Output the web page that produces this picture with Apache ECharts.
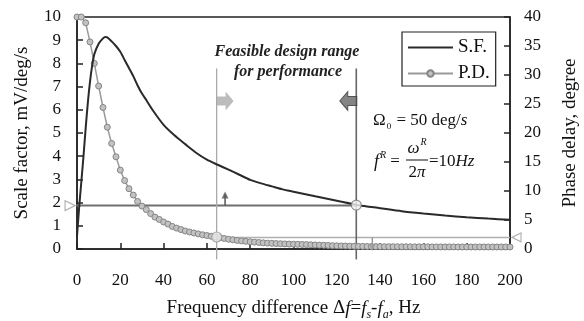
<!DOCTYPE html>
<html>
<head>
<meta charset="utf-8">
<script src="https://cdn.jsdelivr.net/npm/echarts@6/dist/echarts.min.js"></script>
<style>
html,body{margin:0;padding:0;background:#fff;}
#chart{width:584px;height:321px;}
</style>
</head>
<body>
<div id="chart"></div>
<script>
// ---- data ----
const xTicks = [0, 20, 40, 60, 80, 100, 120, 140, 160, 180, 200];
const sfTicks = [0, 1, 2, 3, 4, 5, 6, 7, 8, 9, 10];
const pdTicks = [0, 5, 10, 15, 20, 25, 30, 35, 40];

// Scale factor (S.F.), mV/deg/s
const sfX = [0,1,2,3,4,5,6,7,8,10,12,13,14,16,18,20,22,24,26,28,30,32,35,40,45,50,55,60,65,70,75,80,85,90,95,100,110,120,130,140,150,160,170,180,190,200];
const sfY = [0.55,1.8,2.9,4.0,5.2,6.3,7.2,7.9,8.4,8.85,9.08,9.14,9.12,8.95,8.75,8.5,8.15,7.8,7.45,7.05,6.7,6.42,5.98,5.35,4.9,4.52,4.15,3.85,3.63,3.42,3.2,2.98,2.83,2.7,2.57,2.47,2.27,2.08,1.89,1.76,1.63,1.53,1.44,1.37,1.31,1.26];

// Phase delay (P.D.), degree
const pdX = [0,2,4,6,8,10,12,14,16,18,20,22,24,26,28,30,32,34,36,38,40,42,44,46,48,50,52,54,56,58,60,62,64,66,68,70,72,74,76,78,80,82,84,86,88,90,92,94,96,98,100,102,104,106,108,110,112,114,116,118,120,122,124,126,128,130,132,134,136,138,140,142,144,146,148,150,152,154,156,158,160,162,164,166,168,170,172,174,176,178,180,182,184,186,188,190,192,194,196,198,200];
const pdY = [40,40,39,35.7,32.0,28.1,24.4,21.0,18.2,15.9,13.6,11.8,10.4,9.3,8.2,7.4,6.8,6.1,5.5,5.1,4.65,4.3,3.9,3.6,3.35,3.1,2.93,2.76,2.6,2.45,2.32,2.2,2.08,1.95,1.82,1.68,1.58,1.48,1.4,1.32,1.25,1.18,1.12,1.06,1.01,0.97,0.94,0.91,0.88,0.85,0.83,0.81,0.79,0.76,0.73,0.7,0.67,0.64,0.61,0.58,0.55,0.53,0.51,0.49,0.47,0.46,0.45,0.44,0.43,0.42,0.41,0.4,0.4,0.39,0.39,0.38,0.38,0.38,0.37,0.37,0.37,0.37,0.36,0.36,0.36,0.36,0.36,0.36,0.35,0.35,0.35,0.35,0.35,0.35,0.35,0.35,0.35,0.35,0.35,0.35,0.35];

// annotation values (axis units)
const sfLevel = 1.87;          // dark horizontal guide (S.F. axis)
const pdLevel = 2.0;           // light horizontal guide (P.D. axis)
const freqLow = 64.5;          // light vertical guide
const freqHigh = 129;          // dark vertical guide
const guideTop = 7.78, guideBottom = -0.45;
const bigArrowY = 6.38;
const bigArrowLowX = 68.4, bigArrowHighX = 125.3;
const upArrowX = 68.4, upArrowTip = 2.46;
const downArrowX = 136.4, downArrowFrom = 0.5, downArrowTip = -0.06;
const leftTriX = -3.2, rightTriX = 203;
const sfMarkY = 1.89, pdMarkY = 2.07;

// ---- chart ----
const FONT = 'Liberation Serif';
const chart = echarts.init(document.getElementById('chart'), null, {renderer: 'canvas'});

const pair = (xs, ys) => xs.map((x, i) => [x, ys[i]]);
const plain = {show: false};

const option = {
  animation: false,
  backgroundColor: '#fff',
  grid: {left: 77, right: 74, top: 17, bottom: 72, show: true, borderColor: '#222', borderWidth: 1.5, backgroundColor: 'transparent',
         containLabel: false, outerBoundsMode: 'none'},
  legend: {
    data: [
      {name: 'S.F.', icon: 'path://M0,0 L45,0 L45,2 L0,2 Z'},
      {name: 'P.D.'}
    ],
    orient: 'vertical', left: 402, top: 32,
    itemWidth: 45, itemHeight: 8, itemGap: 7,
    padding: [6, 6, 3, 5],
    borderColor: '#222', borderWidth: 1.2,
    textStyle: {fontFamily: FONT, fontSize: 19, color: '#111'}
  },
  xAxis: {
    type: 'value', min: xTicks[0], max: xTicks[xTicks.length - 1], interval: xTicks[1] - xTicks[0],
    name: 'Frequency difference Δ{i|f}={i|f}{sub|s}-{i|f}{sub|a}, Hz',
    nameLocation: 'middle', nameGap: 50,
    nameTextStyle: {fontFamily: FONT, fontSize: 19, color: '#111',
      rich: {i: {fontFamily: FONT, fontSize: 19, fontStyle: 'italic', color: '#111'},
             sub: {fontFamily: FONT, fontSize: 12, fontStyle: 'italic', color: '#111', verticalAlign: 'bottom', padding: [0, 0, -3, 0]}}},
    axisLine: {lineStyle: {color: '#222', width: 1.5}},
    axisTick: {inside: true, length: 6, lineStyle: {color: '#222', width: 1.5}},
    axisLabel: {fontFamily: FONT, fontSize: 17, color: '#111', margin: 23},
    splitLine: plain
  },
  yAxis: [{
    type: 'value', min: sfTicks[0], max: sfTicks[sfTicks.length - 1], interval: 1,
    name: 'Scale factor, mV/deg/s', nameLocation: 'middle', nameGap: 45,
    nameTextStyle: {fontFamily: FONT, fontSize: 19, color: '#111'},
    axisLine: {show: true, lineStyle: {color: '#222', width: 1.5}},
    axisTick: {show: true, inside: true, length: 6, lineStyle: {color: '#222', width: 1.5}},
    axisLabel: {fontFamily: FONT, fontSize: 17, color: '#111', margin: 16},
    splitLine: plain
  }, {
    type: 'value', position: 'right', min: pdTicks[0], max: pdTicks[pdTicks.length - 1], interval: 5,
    name: 'Phase delay, degree', nameLocation: 'middle', nameGap: 51, nameRotate: 90,
    nameTextStyle: {fontFamily: FONT, fontSize: 19, color: '#111'},
    axisLine: {show: true, lineStyle: {color: '#222', width: 1.5}},
    axisTick: {show: true, inside: true, length: 6, lineStyle: {color: '#222', width: 1.5}},
    axisLabel: {fontFamily: FONT, fontSize: 17, color: '#111', margin: 14},
    splitLine: plain
  }],
  series: [
    // guides
    {type: 'line', name: 'g1', data: [[-0.9, sfLevel], [freqHigh, sfLevel]], yAxisIndex: 0, clip: false, symbol: 'none', silent: true,
     lineStyle: {color: '#6e6e6e', width: 2}, z: 1},
    {type: 'line', name: 'g2', data: [[freqLow, pdLevel], [200, pdLevel]], yAxisIndex: 1, clip: false, symbol: 'none', silent: true,
     lineStyle: {color: '#b0b0b0', width: 1.5}, z: 1},
    {type: 'line', name: 'g3', data: [[freqLow, guideTop], [freqLow, guideBottom]], yAxisIndex: 0, clip: false, symbol: 'none', silent: true,
     lineStyle: {color: '#aaaaaa', width: 1.3}, z: 1},
    {type: 'line', name: 'g4', data: [[freqHigh, guideTop], [freqHigh, guideBottom]], yAxisIndex: 0, clip: false, symbol: 'none', silent: true,
     lineStyle: {color: '#666666', width: 1.6}, z: 1},
    {type: 'line', name: 'g5', data: [[upArrowX, sfLevel], [upArrowX, upArrowTip - 0.1]], yAxisIndex: 0, clip: false, symbol: 'none', silent: true,
     lineStyle: {color: '#555', width: 1.5}, z: 1},
    {type: 'line', name: 'g6', data: [[downArrowX, downArrowFrom], [downArrowX, downArrowTip + 0.1]], yAxisIndex: 0, clip: false, symbol: 'none', silent: true,
     lineStyle: {color: '#999', width: 1.5}, z: 1},
    // main curves
    {type: 'line', name: 'S.F.', data: pair(sfX, sfY), yAxisIndex: 0, symbol: 'none', smooth: 0.25,
     lineStyle: {color: '#2a2a2a', width: 2}, itemStyle: {color: '#2a2a2a'}, z: 3},
    {type: 'line', name: 'P.D.', data: pair(pdX, pdY), yAxisIndex: 1, symbol: 'circle', symbolSize: 6, showAllSymbol: true, clip: false,
     lineStyle: {color: '#9a9a9a', width: 1.5}, itemStyle: {color: '#c2c2c2', borderColor: '#858585', borderWidth: 1}, z: 2},
    // arrow heads
    {type: 'scatter', name: 'h1', data: [[upArrowX, upArrowTip - 0.13]], yAxisIndex: 0, clip: false, silent: true,
     symbol: 'triangle', symbolSize: [7, 7], itemStyle: {color: '#555'}, z: 4},
    {type: 'scatter', name: 'h2', data: [[downArrowX, downArrowTip + 0.13]], yAxisIndex: 0, clip: false, silent: true,
     symbol: 'triangle', symbolSize: [7, 7], symbolRotate: 180, itemStyle: {color: '#999'}, z: 4},
    // big block arrows
    {type: 'scatter', name: 'b1', data: [[bigArrowLowX, bigArrowY]], yAxisIndex: 0, silent: true,
     symbol: 'path://M0,5 L9,5 L9,0 L17,9.5 L9,19 L9,14 L0,14 Z', symbolSize: [17, 19], symbolKeepAspect: false,
     itemStyle: {color: '#ababab'}, z: 4},
    {type: 'scatter', name: 'b2', data: [[bigArrowHighX, bigArrowY]], yAxisIndex: 0, silent: true,
     symbol: 'path://M17,5 L8,5 L8,0 L0,9.5 L8,19 L8,14 L17,14 Z', symbolSize: [17, 19], symbolKeepAspect: false,
     itemStyle: {color: '#666', borderColor: '#3a3a3a', borderWidth: 1}, z: 4},
    // open triangles at axes
    {type: 'scatter', name: 't1', data: [[leftTriX, sfLevel]], yAxisIndex: 0, clip: false, silent: true,
     symbol: 'triangle', symbolSize: [10, 10], symbolRotate: -90, itemStyle: {color: '#fff', borderColor: '#a0a0a0', borderWidth: 1.2}, z: 4},
    {type: 'scatter', name: 't2', data: [[rightTriX, pdLevel]], yAxisIndex: 1, clip: false, silent: true,
     symbol: 'triangle', symbolSize: [9, 9], symbolRotate: 90, itemStyle: {color: '#fff', borderColor: '#a0a0a0', borderWidth: 1.2}, z: 4},
    // intersection circles
    {type: 'scatter', name: 'c1', data: [[freqHigh, sfMarkY]], yAxisIndex: 0, silent: true,
     symbol: 'circle', symbolSize: 10, itemStyle: {color: '#f4f4f4', borderColor: '#777', borderWidth: 1.2}, z: 5},
    {type: 'scatter', name: 'c2', data: [[freqLow, pdMarkY]], yAxisIndex: 1, silent: true,
     symbol: 'circle', symbolSize: 10, itemStyle: {color: '#eaeaea', borderColor: '#9a9a9a', borderWidth: 1.2}, z: 5}
  ],
  graphic: [
    {type: 'text', style: {text: 'Feasible design range', x: 287, y: 52, align: 'center', verticalAlign: 'middle',
      font: 'italic bold 16px "Liberation Serif"', fill: '#222'}},
    {type: 'text', style: {text: 'for performance', x: 288, y: 72, align: 'center', verticalAlign: 'middle',
      font: 'italic bold 16px "Liberation Serif"', fill: '#222'}},
    {type: 'text', style: {text: '{t|Ω}{sub|0}{t| = 50}{t| deg/}{i|s}', x: 373, y: 121, align: 'left', verticalAlign: 'middle',
      rich: {t: {fontFamily: FONT, fontSize: 17, fill: '#111'},
             i: {fontFamily: FONT, fontSize: 17, fontStyle: 'italic', fill: '#111'},
             sub: {fontFamily: FONT, fontSize: 9, fill: '#111', verticalAlign: 'bottom', padding: [0, 1, -2, 1]}}}},
    {type: 'text', style: {text: '{i|f}{sup|R}{t| =}', x: 374, y: 162, align: 'left', verticalAlign: 'middle',
      rich: {t: {fontFamily: FONT, fontSize: 17, fill: '#111'},
             i: {fontFamily: FONT, fontSize: 18, fontStyle: 'italic', fill: '#111'},
             sup: {fontFamily: FONT, fontSize: 10, fontStyle: 'italic', fill: '#111', verticalAlign: 'top', padding: [-3, 0, 0, 1]}}}},
    {type: 'text', style: {text: '{i|ω}{sup|R}', x: 417, y: 149, align: 'center', verticalAlign: 'middle',
      rich: {i: {fontFamily: FONT, fontSize: 17, fontStyle: 'italic', fill: '#111'},
             sup: {fontFamily: FONT, fontSize: 10, fontStyle: 'italic', fill: '#111', verticalAlign: 'top', padding: [-3, 0, 0, 1]}}}},
    {type: 'line', shape: {x1: 406, y1: 160, x2: 428, y2: 160}, style: {stroke: '#111', lineWidth: 1}},
    {type: 'text', style: {text: '{t|2}{i|π}', x: 417, y: 173, align: 'center', verticalAlign: 'middle',
      rich: {t: {fontFamily: FONT, fontSize: 17, fill: '#111'},
             i: {fontFamily: FONT, fontSize: 17, fontStyle: 'italic', fill: '#111'}}}},
    {type: 'text', style: {text: '{t|=10}{i|Hz}', x: 429, y: 162, align: 'left', verticalAlign: 'middle',
      rich: {t: {fontFamily: FONT, fontSize: 17, fill: '#111'},
             i: {fontFamily: FONT, fontSize: 17, fontStyle: 'italic', fill: '#111'}}}}
  ]
};
chart.setOption(option);
</script>
</body>
</html>
